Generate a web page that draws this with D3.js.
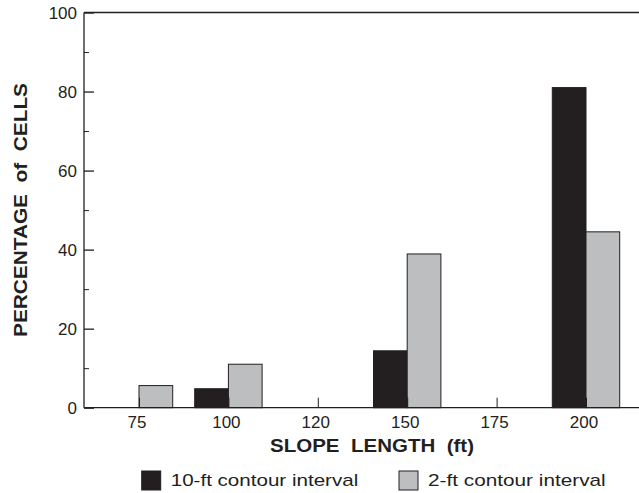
<!DOCTYPE html>
<html><head><meta charset="utf-8">
<script src="https://cdn.jsdelivr.net/npm/d3@7"></script>
<style>body{margin:0;background:#fff}svg{display:block}text{font-family:"Liberation Sans",Arial,sans-serif;fill:#231f20}</style>
</head><body><svg id="c" width="639" height="493"></svg>
<script>
const categories = ["75","100","120","150","175","200"];
const series10ft = [0, 4.8, 0, 14.4, 0, 81.0];
const series2ft  = [5.6, 11.0, 0, 38.9, 0, 44.5];
const yTicks = [0,20,40,60,80,100];
const yMinor = [10,30,50,70,90];
const seriesNames = ["10-ft contour interval","2-ft contour interval"];
const colors = ["#231f20","#bcbec0"];
const ink = "#231f20";

const svg = d3.select("#c");
const L = 84, T = 12.5, B = 407.7, R = 639;
const y = d3.scaleLinear().domain([0,100]).range([B,T]);
const x = d3.scalePoint().domain(categories).range([139,586]);
const bw = 33.7;

// bars
const g = svg.append("g");
categories.forEach((c,i)=>{
  const vals=[series10ft[i],series2ft[i]];
  vals.forEach((v,j)=>{
    if(v<=0) return;
    g.append("rect").attr("x", j===0 ? x(c)-bw : x(c)).attr("width",bw)
      .attr("y",y(v)).attr("height",B-y(v))
      .attr("fill",colors[j]).attr("stroke",ink).attr("stroke-width",1);
  });
});

// y axis
const ya = svg.append("g").attr("transform",`translate(${L},0)`)
  .call(d3.axisRight(y).tickValues(yTicks).tickSize(10).tickFormat(""));
ya.selectAll("path,line").attr("stroke",ink).attr("stroke-width",1.3);
ya.select(".domain").remove();
svg.append("line").attr("x1",L).attr("x2",L).attr("y1",T).attr("y2",B).attr("stroke",ink).attr("stroke-width",1.3);
const ym = svg.append("g").attr("transform",`translate(${L},0)`)
  .call(d3.axisRight(y).tickValues(yMinor).tickSize(5).tickFormat(""));
ym.select(".domain").remove();
ym.selectAll("line").attr("stroke",ink).attr("stroke-width",1);
yTicks.forEach(t=>{
  svg.append("text").attr("x",77).attr("y",y(t)).attr("dy","0.36em")
    .attr("text-anchor","end").attr("font-size",17).text(t);
});
// top line
svg.append("line").attr("x1",L).attr("x2",R).attr("y1",T).attr("y2",T).attr("stroke",ink).attr("stroke-width",1.3);

// x axis
const xa = svg.append("g").attr("transform",`translate(0,${B})`)
  .call(d3.axisTop(x).tickSize(10).tickFormat(""));
xa.select(".domain").remove();
xa.selectAll("line").attr("stroke",ink).attr("stroke-width",1);
svg.append("line").attr("x1",L).attr("x2",R).attr("y1",B).attr("y2",B).attr("stroke",ink).attr("stroke-width",1.3);
categories.forEach(c=>{
  svg.append("text").attr("x",x(c)-2).attr("y",428).attr("text-anchor","middle")
    .attr("font-size",17).text(c);
});

// axis titles
svg.append("text").attr("x",270).attr("y",451.7)
  .attr("font-size",18.5).attr("font-weight","bold")
  .attr("textLength",204).attr("lengthAdjust","spacingAndGlyphs")
  .attr("xml:space","preserve").text("SLOPE  LENGTH  (ft)");
svg.append("text").attr("transform","translate(26.5,337) rotate(-90)")
  .attr("font-size",18.5).attr("font-weight","bold")
  .attr("textLength",254).attr("lengthAdjust","spacingAndGlyphs")
  .attr("xml:space","preserve").text("PERCENTAGE  of  CELLS");

// legend
const legX=[141.7,399];
const legLen=[187.6,177.7];
seriesNames.forEach((n,i)=>{
  svg.append("rect").attr("x",legX[i]).attr("y",471).attr("width",19).attr("height",19)
    .attr("fill",colors[i]).attr("stroke",ink).attr("stroke-width",1);
  svg.append("text").attr("x",legX[i]+29).attr("y",486).attr("font-size",17)
    .attr("textLength",legLen[i]).attr("lengthAdjust","spacingAndGlyphs").text(n);
});
</script></body></html>
